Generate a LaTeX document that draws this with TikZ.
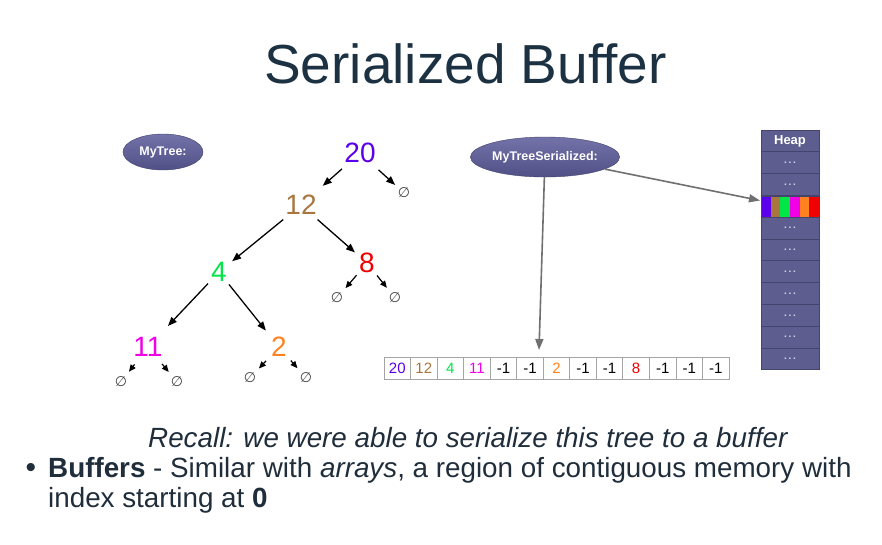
\documentclass[tikz,border=0pt]{standalone}
\usepackage{fontspec}
\setmainfont{Liberation Sans}
\newfontfamily\symfont{DejaVu Sans}
\usetikzlibrary{arrows.meta,shapes.geometric}

\definecolor{titleink}{RGB}{28,50,66}
\definecolor{bodyink}{RGB}{32,46,60}
\definecolor{cpurple}{RGB}{90,0,235}
\definecolor{cbrown}{RGB}{168,118,62}
\definecolor{cgreen}{RGB}{0,230,70}
\definecolor{cmagenta}{RGB}{240,0,230}
\definecolor{corange}{RGB}{255,130,30}
\definecolor{cred}{RGB}{240,0,0}
\definecolor{ovaltop}{RGB}{115,115,170}
\definecolor{ovalbot}{RGB}{80,80,135}
\definecolor{heapfill}{RGB}{93,93,143}
\definecolor{heapline}{RGB}{68,68,108}
\definecolor{pointer}{RGB}{112,112,112}
\definecolor{cellline}{RGB}{165,165,165}
\definecolor{nullink}{RGB}{70,70,70}

\tikzset{
  treenum/.style={inner sep=0pt, font=\fontsize{28}{30}\selectfont},
  nullnode/.style={inner sep=0pt, text=nullink, font=\symfont\fontsize{14}{16}\selectfont},
  treearrow/.style={line width=1.3pt, -{Triangle[length=9pt,width=7pt]}},
  smallarrow/.style={line width=1.2pt, -{Triangle[length=7pt,width=6pt]}},
  oval/.style={ellipse, inner sep=0pt, top color=ovaltop, bottom color=ovalbot,
    draw=ovalbot!80!black, line width=0.4pt, text=white,
    font=\bfseries\fontsize{12.5}{14}\selectfont},
  ptrarrow/.style={draw=pointer, line width=1.6pt,
    -{Triangle[length=11pt,width=8pt,fill=pointer]}},
  arrcell/.style={draw=cellline, line width=0.8pt, minimum width=26.54pt,
    minimum height=22pt, inner sep=0pt, font=\fontsize{15}{17}\selectfont},
  heapcell/.style={draw=heapline, fill=heapfill, line width=0.8pt,
    minimum width=58pt, minimum height=21.8pt, inner sep=0pt},
  heapdots/.style={heapcell, text=white!75!heapfill,
    font=\bfseries\fontsize{10}{10}\selectfont},
  bodytext/.style={anchor=base west, inner sep=0pt, text=bodyink,
    font=\fontsize{27.8}{32}\selectfont}
}

\begin{document}
\begin{tikzpicture}[x=1pt,y=-1pt]
\useasboundingbox (0,0) rectangle (882,544);
\fill[white] (0,0) rectangle (882,544);

% heading
\node[anchor=base, inner sep=0pt, text=titleink,
  font=\fontsize{55}{60}\selectfont] (title) at (465.5,83) {Serialized Buffer};

% labels
\node[oval, minimum width=80pt, minimum height=36pt] (mytree) at (163,152) {MyTree:};
\node[oval, minimum width=144pt, minimum height=40pt] (ser) at (545,157) {MyTreeSerialized:};

% tree values
\node[treenum, text=cpurple]  (n20) at (360,153) {20};
\node[treenum, text=cbrown]   (n12) at (301,205) {12};
\node[treenum, text=cgreen]   (n4)  at (219,272) {4};
\node[treenum, text=cred]     (n8)  at (367,263) {8};
\node[treenum, text=cmagenta] (n11) at (148,347) {11};
\node[treenum, text=corange]  (n2)  at (279,347) {2};

% empty children
\node[nullnode] (z20) at (404,193) {∅};
\node[nullnode] (z8a) at (337,298) {∅};
\node[nullnode] (z8b) at (395,298) {∅};
\node[nullnode] (z11a) at (121,382) {∅};
\node[nullnode] (z11b) at (177,382) {∅};
\node[nullnode] (z2a) at (250,378) {∅};
\node[nullnode] (z2b) at (306,378) {∅};

% tree edges
\draw[treearrow, shorten <=24pt, shorten >=29pt] (n20.center) -- (n12.center);
\draw[treearrow, shorten <=25pt, shorten >=12pt] (n20.center) -- (z20.center);
\draw[treearrow, shorten <=23pt, shorten >=17pt] (n12.center) -- (n4.center);
\draw[treearrow, shorten <=22pt, shorten >=16pt] (n12.center) -- (n8.center);
\draw[treearrow, shorten <=16pt, shorten >=29pt] (n4.center) -- (n11.center);
\draw[treearrow, shorten <=16pt, shorten >=21pt] (n4.center) -- (n2.center);
\draw[smallarrow, shorten <=16pt, shorten >=13pt] (n8.center) -- (z8a.center);
\draw[smallarrow, shorten <=16pt, shorten >=13pt] (n8.center) -- (z8b.center);
\draw[smallarrow, shorten <=22pt, shorten >=13pt] (n11.center) -- (z11a.center);
\draw[smallarrow, shorten <=22pt, shorten >=13pt] (n11.center) -- (z11b.center);
\draw[smallarrow, shorten <=19pt, shorten >=13pt] (n2.center) -- (z2a.center);
\draw[smallarrow, shorten <=18pt, shorten >=13pt] (n2.center) -- (z2b.center);

% serialized buffer
\foreach \v/\c [count=\i from 0] in {20/cpurple,12/cbrown,4/cgreen,11/cmagenta,
    -1/black,-1/black,2/corange,-1/black,-1/black,8/cred,-1/black,-1/black,-1/black}
  \node[arrcell, text=\c] (a\i) at (384+26.54*\i+13.27,368.3) {\v};

% heap column
\node[heapcell, text=white, font=\bfseries\fontsize{13}{14}\selectfont] (h0) at (790,140.9) {Heap};
\foreach \i in {1,2,4,5,6,7,8,9,10}
  \node[heapdots] (h\i) at (790,130+21.8*\i+10.9) {.\,.\,.};
\node[heapcell] (h3) at (790,130+21.8*3+10.9) {};
\foreach \c [count=\k from 0] in {cpurple,cbrown,cgreen,cmagenta,corange,cred}
  \fill[\c] (761+9.667*\k,196.6) rectangle (761+9.667*\k+9.667,217.6);
\draw[heapline, line width=0.6pt] (761,196.6) rectangle (819,217.6);

% pointers
\coordinate (arrtip) at (539,350);
\coordinate (heaptip) at (760,200.5);
\draw[ptrarrow] (ser) -- (arrtip);
\draw[ptrarrow] (ser) -- (heaptip);

% text
\node[bodytext, font=\itshape\fontsize{27.8}{32}\selectfont] (recall) at (148,447)
  {Recall: we were able to serialize this tree to a buffer};
\node[anchor=base, inner sep=0pt, text=bodyink, font=\fontsize{30}{32}\selectfont] (bullet) at (31,477) {•};
\node[bodytext] (line1) at (48,477)
  {\textbf{Buffers} - Similar with \textit{arrays}, a region of contiguous memory with};
\node[bodytext] (line2) at (48,507) {index starting at \textbf{0}};
\end{tikzpicture}
\end{document}
